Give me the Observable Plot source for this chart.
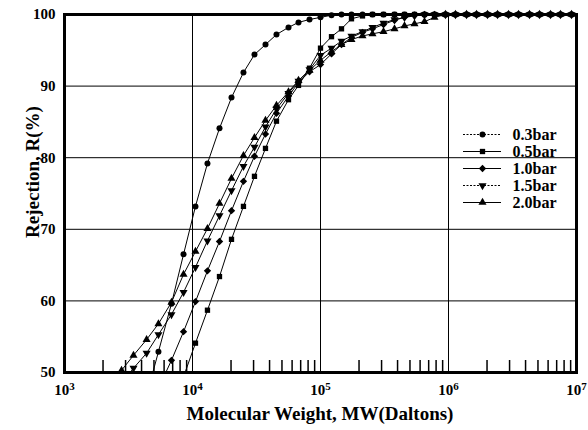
<!DOCTYPE html>
<html><head><meta charset="utf-8">
<script src="https://cdn.jsdelivr.net/npm/d3@7"></script>
<script src="https://cdn.jsdelivr.net/npm/@observablehq/plot@0.6"></script>
<style>
body{margin:0;background:#fff;}
#wrap{position:relative;width:588px;height:430px;font-family:"Liberation Serif","Times New Roman",serif;color:#000;}
#ylab{position:absolute;left:33px;top:172px;transform:translate(-50%,-50%) rotate(-90deg);font-weight:bold;font-size:19px;white-space:nowrap;}
#xlab{position:absolute;left:320px;top:403px;transform:translateX(-50%);font-weight:bold;font-size:19px;white-space:nowrap;line-height:22px;}
#legend{position:absolute;left:455px;top:112px;}
</style></head><body>
<div id="wrap"><div id="chart"></div><div id="ylab">Rejection, R(%)</div><div id="xlab">Molecular Weight, MW(Daltons)</div><div id="legend"></div></div>
<script>
const seriesNames = ["0.3bar", "0.5bar", "1.0bar", "1.5bar", "2.0bar"];
const symbols = ["circle", "square", "diamond2", "triangle", "triangle"];
const rotations = [0, 0, 0, 180, 0];
const radii = [3.7, 3.7, 4.5, 3.7, 3.7];

// molecular weight grid (Daltons)
const mw = [2250, 2790, 3460, 4380, 5420, 6850, 8510, 10550, 13090, 16250, 20170, 25010, 30490, 37170, 45300, 56230, 67320, 82060, 100000, 121900, 145900, 174600, 212900, 254800, 310600, 378600, 453200, 542500, 649400, 777400, 947500, 1134000, 1383000, 1655000, 2017000, 2415000, 2943000, 3523000, 4295000, 5140000, 6266000, 7499000, 9141000];

const r03 = [null, null, null, 46.8, 52.9, 59.6, 66.5, 73.2, 79.2, 84.1, 88.4, 91.9, 94.4, 95.8, 97.2, 98.2, 98.9, 99.3, 99.6, 99.9, 100, 100, 100, 100, 100, 100, 100, 100, 100, 100, 100, 100, 100, 100, 100, 100, 100, 100, 100, 100, 100, 100, 100];
const r05 = [null, null, null, null, null, null, 49.4, 54.1, 58.7, 63.4, 68.6, 73.2, 77.4, 81.3, 85.1, 88.1, 90.1, 92.5, 95.3, 96.9, 98.0, 99.4, 99.8, 100, 100, 100, 100, 100, 100, 100, 100, 100, 100, 100, 100, 100, 100, 100, 100, 100, 100, 100, 100];
const r10 = [null, null, null, null, 47.8, 51.7, 55.7, 59.9, 64.2, 68.3, 72.6, 76.7, 80.2, 83.3, 86.2, 88.6, 90.5, 92.0, 93.0, 94.5, 95.8, 96.8, 97.5, 98.0, 98.6, 99.2, 99.6, 99.9, 100, 100, 100, 100, 100, 100, 100, 100, 100, 100, 100, 100, 100, 100, 100];
const r15 = [null, 48.5, 50.6, 52.7, 55.3, 58.1, 61.2, 64.7, 68.4, 71.9, 75.4, 78.8, 81.5, 84.3, 86.8, 89.0, 90.7, 92.3, 94.3, 95.3, 96.3, 97.0, 97.6, 98.2, 98.8, 99.3, 99.6, 99.8, 100, 100, 100, 100, 100, 100, 100, 100, 100, 100, 100, 100, 100, 100, 100];
const r20 = [48.2, 50.3, 52.4, 54.6, 56.8, 59.8, 63.7, 66.9, 70.1, 73.6, 77.1, 80.3, 82.8, 85.2, 87.3, 89.2, 90.8, 92.2, 93.6, 94.8, 95.8, 96.5, 97.0, 97.3, 97.6, 98.0, 98.4, 98.7, 99.0, 99.6, 100, 100, 100, 100, 100, 100, 100, 100, 100, 100, 100, 100, 100];

const xTicks = [1e3, 1e4, 1e5, 1e6, 1e7];
const xTickExponents = ["3", "4", "5", "6", "7"];
const minorTicks = [2e3,3e3,4e3,5e3,6e3,7e3,8e3,9e3, 2e4,3e4,4e4,5e4,6e4,7e4,8e4,9e4, 2e5,3e5,4e5,5e5,6e5,7e5,8e5,9e5, 2e6,3e6,4e6,5e6,6e6,7e6,8e6,9e6];
const yTicks = [50, 60, 70, 80, 90, 100];

const allSeries = [r03, r05, r10, r15, r20];
const data = [];
allSeries.forEach((vals, si) => vals.forEach((v, i) => {
  if (v != null) data.push({mw: mw[i], r: v, series: seriesNames[si]});
}));
const shown = data.filter(d => d.r >= 50);
const idx = s => seriesNames.indexOf(s);
const serif = '"Liberation Serif","Times New Roman",serif';

const chart = Plot.plot({
  width: 588, height: 430,
  marginLeft: 64, marginRight: 12, marginTop: 14, marginBottom: 58,
  style: {fontFamily: serif, fontWeight: "bold", fontSize: "15px", background: "white", color: "black", overflow: "visible"},
  x: {type: "log", domain: [1e3, 1e7]},
  y: {domain: [50, 100]},
  symbol: {domain: seriesNames, range: symbols},
  marks: [
    Plot.gridX(xTicks, {stroke: "black", strokeOpacity: 1, strokeWidth: 1}),
    Plot.gridY(yTicks, {stroke: "black", strokeOpacity: 1, strokeWidth: 1}),
    Plot.ruleX(minorTicks, {x: d => d, insetTop: 346, stroke: "black", strokeWidth: 1.5}),
    Plot.axisX(xTicks, {tickSize: 0, tickPadding: 12, tickFormat: d => "10^" + xTickExponents[xTicks.indexOf(d)], label: null, fontSize: 15}),
    Plot.axisY(yTicks, {tickSize: 0, tickPadding: 9, label: null, fontSize: 15}),
    Plot.line(data, {x: "mw", y: "r", z: "series", stroke: "black", strokeWidth: 1, clip: true}),
    Plot.dot(shown, {x: "mw", y: "r", symbol: "series", fill: "black", stroke: "none", r: d => radii[idx(d.series)], rotate: d => rotations[idx(d.series)]}),
    Plot.frame({stroke: "black", strokeWidth: 3})
  ]
});
// render the exponent as a superscript
d3.select(chart).selectAll("text").each(function() {
  const t = this.textContent;
  if (/^10\^\d$/.test(t)) {
    const e = t.split("^")[1];
    const sel = d3.select(this);
    sel.text("10");
    sel.append("tspan").attr("dy", "-0.45em").attr("font-size", "11px").text(e);
  }
});
document.getElementById("chart").appendChild(chart);

const legend = Plot.plot({
  width: 130, height: 115, margin: 0,
  style: {fontFamily: serif, fontWeight: "bold", background: "transparent", color: "black", overflow: "visible"},
  x: {domain: [0, 1], range: [8, 46], axis: null},
  y: {type: "point", domain: seriesNames, range: [13, 99], axis: null},
  symbol: {domain: seriesNames, range: symbols},
  marks: [
    Plot.ruleY(seriesNames.filter(s => s === "0.3bar" || s === "1.5bar"), {y: d => d, x1: 0, x2: 1, stroke: "black", strokeWidth: 1, strokeDasharray: "2,1.5"}),
    Plot.ruleY(seriesNames.filter(s => !(s === "0.3bar" || s === "1.5bar")), {y: d => d, x1: 0, x2: 1, stroke: "black", strokeWidth: 1}),
    Plot.dot(seriesNames, {x: 0.5, y: d => d, symbol: d => d, fill: "black", stroke: "none", r: d => radii[idx(d)] * 0.85, rotate: d => rotations[idx(d)]}),
    Plot.text(seriesNames, {x: 1, y: d => d, text: d => d, dx: 11, textAnchor: "start", fontSize: 16, fontWeight: "bold"})
  ]
});
document.getElementById("legend").appendChild(legend);
</script>
</body></html>
